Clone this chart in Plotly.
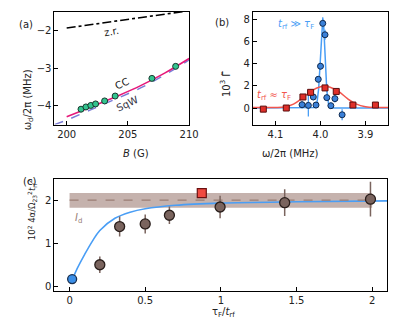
import plotly.graph_objects as go

# ---- panel (a): dimer frequency vs field ----
b_field = [201.17, 201.57, 201.97, 202.36, 203.1, 203.96, 206.96, 208.9]
omega_d = [-4.09, -4.03, -3.99, -3.95, -3.87, -3.74, -3.27, -2.95]

cc_b = [200, 202, 204, 206, 208, 210]
cc_omega = [-4.29, -4.03, -3.76, -3.47, -3.13, -2.74]
sqw_b = [199, 200, 202, 204, 206, 208, 210]
sqw_omega = [-4.5, -4.38, -4.1, -3.82, -3.53, -3.18, -2.78]
zr_b = [200, 210]
zr_omega = [-1.93, -1.47]

# ---- panel (b): spectra ----
blue_freq = [4.041, 4.027, 4.016, 4.010, 4.005, 4.000, 3.995, 3.990, 3.986, 3.977, 3.968, 3.952]
blue_gamma = [0.3, 0.24, 1.0, 0.27, 2.6, 3.78, 7.66, 6.63, 0.94, 0.21, 0.85, -0.61]
blue_err = [0.35, 1.0, 0.3, 0.3, 0.3, 0.35, 0.55, 0.45, 0.3, 0.3, 0.35, 0.5]

blue_fit_freq = [4.15, 4.02, 4.012, 4.008, 4.004, 4.0, 3.997, 3.995, 3.993, 3.99,
                 3.986, 3.982, 3.978, 3.97, 3.85]
blue_fit_gamma = [0, 0, 0.05, 0.4, 1.8, 4.6, 7.3, 8.1, 7.5, 4.9, 1.6, 0.3, 0.03, 0, 0]

red_freq = [4.127, 4.076, 4.039, 4.022, 3.990, 3.965, 3.928, 3.878]
red_gamma = [-0.1, 0.0, 1.0, 1.42, 1.82, 1.5, 0.27, 0.27]
red_err = [0.1, 0.1, 0.15, 0.15, 0.15, 0.15, 0.1, 0.1]

red_fit_freq = [4.15, 4.10, 4.08, 4.06, 4.04, 4.02, 4.00, 3.99, 3.98, 3.96,
                3.94, 3.92, 3.90, 3.88, 3.85]
red_fit_gamma = [0.05, 0.05, 0.1, 0.35, 0.9, 1.55, 1.92, 1.95, 1.9, 1.5,
                 0.85, 0.35, 0.12, 0.05, 0.05]

# ---- panel (c): normalised rate vs tau_F / t_rf ----
ratio = [0.2, 0.331, 0.5, 0.66, 0.995, 1.422, 1.989]
rate = [0.51, 1.39, 1.45, 1.65, 1.84, 1.94, 2.02]
rate_err = [0.19, 0.23, 0.22, 0.2, 0.26, 0.31, 0.4]

blue_ratio = [0.017]
blue_rate = [0.18]
red_ratio = [0.874]
red_rate = [2.16]
red_rate_err = [0.08]

theory_ratio = [0.02, 0.05, 0.1, 0.15, 0.2, 0.3, 0.4, 0.5, 0.7, 1.0, 1.5, 2.1]
theory_rate = [0.18, 0.42, 0.75, 1.05, 1.3, 1.58, 1.72, 1.8, 1.88, 1.93, 1.96, 1.98]

id_center = 2.0
id_low, id_high = 1.82, 2.16
id_x0, id_x1 = 0, 2

FONT = "DejaVu Sans"
BLACK = "#222222"
TEAL = "#33c48f"
PINK = "#e6197a"
LAVENDER = "#7a7ad6"
BLUE = "#4a9ef5"
BLUE_DARK = "#3a80d8"
RED = "#f2554d"
RED_FILL = "#e0302a"
BROWN = "#7a645e"

fig = go.Figure()

# panel (a)
fig.add_trace(go.Scatter(x=zr_b, y=zr_omega, mode="lines", xaxis="x", yaxis="y",
                         line=dict(color="black", width=1.6, dash="dashdot")))
fig.add_trace(go.Scatter(x=sqw_b, y=sqw_omega, mode="lines", xaxis="x", yaxis="y",
                         line=dict(color=LAVENDER, width=1.4, dash="dash", shape="spline")))
fig.add_trace(go.Scatter(x=cc_b, y=cc_omega, mode="lines", xaxis="x", yaxis="y",
                         line=dict(color=PINK, width=1.6, shape="spline")))
fig.add_trace(go.Scatter(x=b_field, y=omega_d, mode="markers", xaxis="x", yaxis="y",
                         marker=dict(size=6, color=TEAL, line=dict(color="#17382e", width=1))))

# panel (b)
fig.add_trace(go.Scatter(x=blue_fit_freq, y=blue_fit_gamma, mode="lines", xaxis="x2", yaxis="y2",
                         line=dict(color=BLUE, width=1.5)))
fig.add_trace(go.Scatter(x=red_fit_freq, y=red_fit_gamma, mode="lines", xaxis="x2", yaxis="y2",
                         line=dict(color=RED, width=1.5, shape="spline")))
fig.add_trace(go.Scatter(x=blue_freq, y=blue_gamma, mode="markers", xaxis="x2", yaxis="y2",
                         error_y=dict(array=blue_err, color=BLUE, thickness=1.3, width=0),
                         marker=dict(size=6, color=BLUE_DARK, line=dict(color="#0f2a4f", width=1))))
fig.add_trace(go.Scatter(x=red_freq, y=red_gamma, mode="markers", xaxis="x2", yaxis="y2",
                         error_y=dict(array=red_err, color=RED, thickness=1, width=0),
                         marker=dict(size=6, symbol="square", color=RED_FILL,
                                     line=dict(color="#5a0f0f", width=1))))

# panel (c)
fig.add_shape(type="rect", xref="x3", yref="y3", x0=id_x0, x1=id_x1, y0=id_low, y1=id_high,
              fillcolor="rgba(150,115,105,0.55)", line=dict(width=0), layer="below")
fig.add_trace(go.Scatter(x=theory_ratio, y=theory_rate, mode="lines", xaxis="x3", yaxis="y3",
                         line=dict(color=BLUE, width=1.6, shape="spline")))
fig.add_trace(go.Scatter(x=[id_x0, id_x1], y=[id_center, id_center], mode="lines",
                         xaxis="x3", yaxis="y3",
                         line=dict(color="#9a7e74", width=1.2, dash="dash")))
fig.add_trace(go.Scatter(x=ratio, y=rate, mode="markers", xaxis="x3", yaxis="y3",
                         error_y=dict(array=rate_err, color=BROWN, thickness=1.5, width=0),
                         marker=dict(size=10, color=BROWN, line=dict(color="#2a1f1c", width=1.3))))
fig.add_trace(go.Scatter(x=red_ratio, y=red_rate, mode="markers", xaxis="x3", yaxis="y3",
                         error_y=dict(array=red_rate_err, color=RED, thickness=1.3, width=0),
                         marker=dict(size=9, symbol="square", color="#f04a40",
                                     line=dict(color="#6a1010", width=1.2))))
fig.add_trace(go.Scatter(x=blue_ratio, y=blue_rate, mode="markers", xaxis="x3", yaxis="y3",
                         marker=dict(size=9, color="#3b8fe8", line=dict(color="#1a3050", width=1.3))))

axis_style = dict(showline=True, mirror=True, linecolor="black", linewidth=1,
                  ticks="inside", ticklen=4, tickcolor="black", showgrid=False,
                  zeroline=False, tickfont=dict(family=FONT, size=10, color=BLACK))

fig.update_layout(
    width=397, height=324, margin=dict(l=0, r=0, t=0, b=0),
    paper_bgcolor="white", plot_bgcolor="white", showlegend=False,
    font=dict(family=FONT, size=10, color=BLACK),
    xaxis=dict(domain=[0.120, 0.468], anchor="y", range=[199, 210],
               tickvals=[200, 205, 210], **axis_style),
    yaxis=dict(domain=[0.639, 0.988], anchor="x", range=[-4.5, -1.5],
               tickvals=[-4, -3, -2], **axis_style),
    xaxis2=dict(domain=[0.633, 0.982], anchor="y2", range=[4.15, 3.85],
                tickvals=[4.1, 4.0, 3.9], tickformat=".1f", **axis_style),
    yaxis2=dict(domain=[0.639, 0.988], anchor="x2", range=[-1.5, 8.7],
                tickvals=[0, 2, 4, 6, 8], **axis_style),
    xaxis3=dict(domain=[0.120, 0.980], anchor="y3", range=[-0.1, 2.1],
                tickvals=[0, 0.5, 1, 1.5, 2], ticktext=["0", "0.5", "1", "1.5", "2"],
                **axis_style),
    yaxis3=dict(domain=[0.123, 0.470], anchor="x3", range=[-0.1, 2.48],
                tickvals=[0, 1, 2], **axis_style),
)

paper_text = [
    ("(a)", 0.023, 0.972, 0, 10),
    ("(b)", 0.552, 0.977, 0, 10),
    ("(c)", 0.033, 0.463, 0, 10),
    ("ω<sub>d</sub>/2π (MHz)", 0.030, 0.815, -90, 10),
    ("<i>B</i> (G)", 0.292, 0.551, 0, 10),
    ("10<sup>3</sup> Γ̃", 0.5625, 0.81, -90, 10),
    ("ω/2π (MHz)", 0.810, 0.551, 0, 10),
    ("10<sup>2</sup> 4α/Ω<sub>23</sub><sup>2</sup><i>t</i><sub>rf</sub><sup>2</sup>",
     0.040, 0.275, -90, 8.5),
    ("τ<sub>F</sub>/<i>t</i><sub>rf</sub>", 0.556, 0.031, 0, 10),
]
for text, x, y, angle, size in paper_text:
    fig.add_annotation(text=text, x=x, y=y, xref="paper", yref="paper", showarrow=False,
                       textangle=angle, font=dict(family=FONT, size=size, color=BLACK))

fig.add_annotation(text="z.r.", x=203.7, y=-2.02, xref="x", yref="y", showarrow=False,
                   textangle=-10, font=dict(family=FONT, size=10, color=BLACK))
fig.add_annotation(text="CC", x=204.55, y=-3.41, xref="x", yref="y", showarrow=False,
                   textangle=-25, font=dict(family=FONT, size=10, color=BLACK))
fig.add_annotation(text="SqW", x=205.0, y=-3.94, xref="x", yref="y", showarrow=False,
                   textangle=-25, font=dict(family=FONT, size=10, color="#333344"))
fig.add_annotation(text="<i>t</i><sub>rf</sub> ≫ <i>τ</i><sub>F</sub>", x=4.055, y=7.57,
                   xref="x2", yref="y2", showarrow=False,
                   font=dict(family=FONT, size=10, color=BLUE))
fig.add_annotation(text="<i>t</i><sub>rf</sub> ≈ <i>τ</i><sub>F</sub>", x=4.104, y=1.15,
                   xref="x2", yref="y2", showarrow=False,
                   font=dict(family=FONT, size=10, color=RED))
fig.add_annotation(text="<i>I</i><sub>d</sub>", x=0.057, y=1.58, xref="x3", yref="y3",
                   showarrow=False, font=dict(family=FONT, size=10, color="#9a8078"))

fig.write_html("out.html")
